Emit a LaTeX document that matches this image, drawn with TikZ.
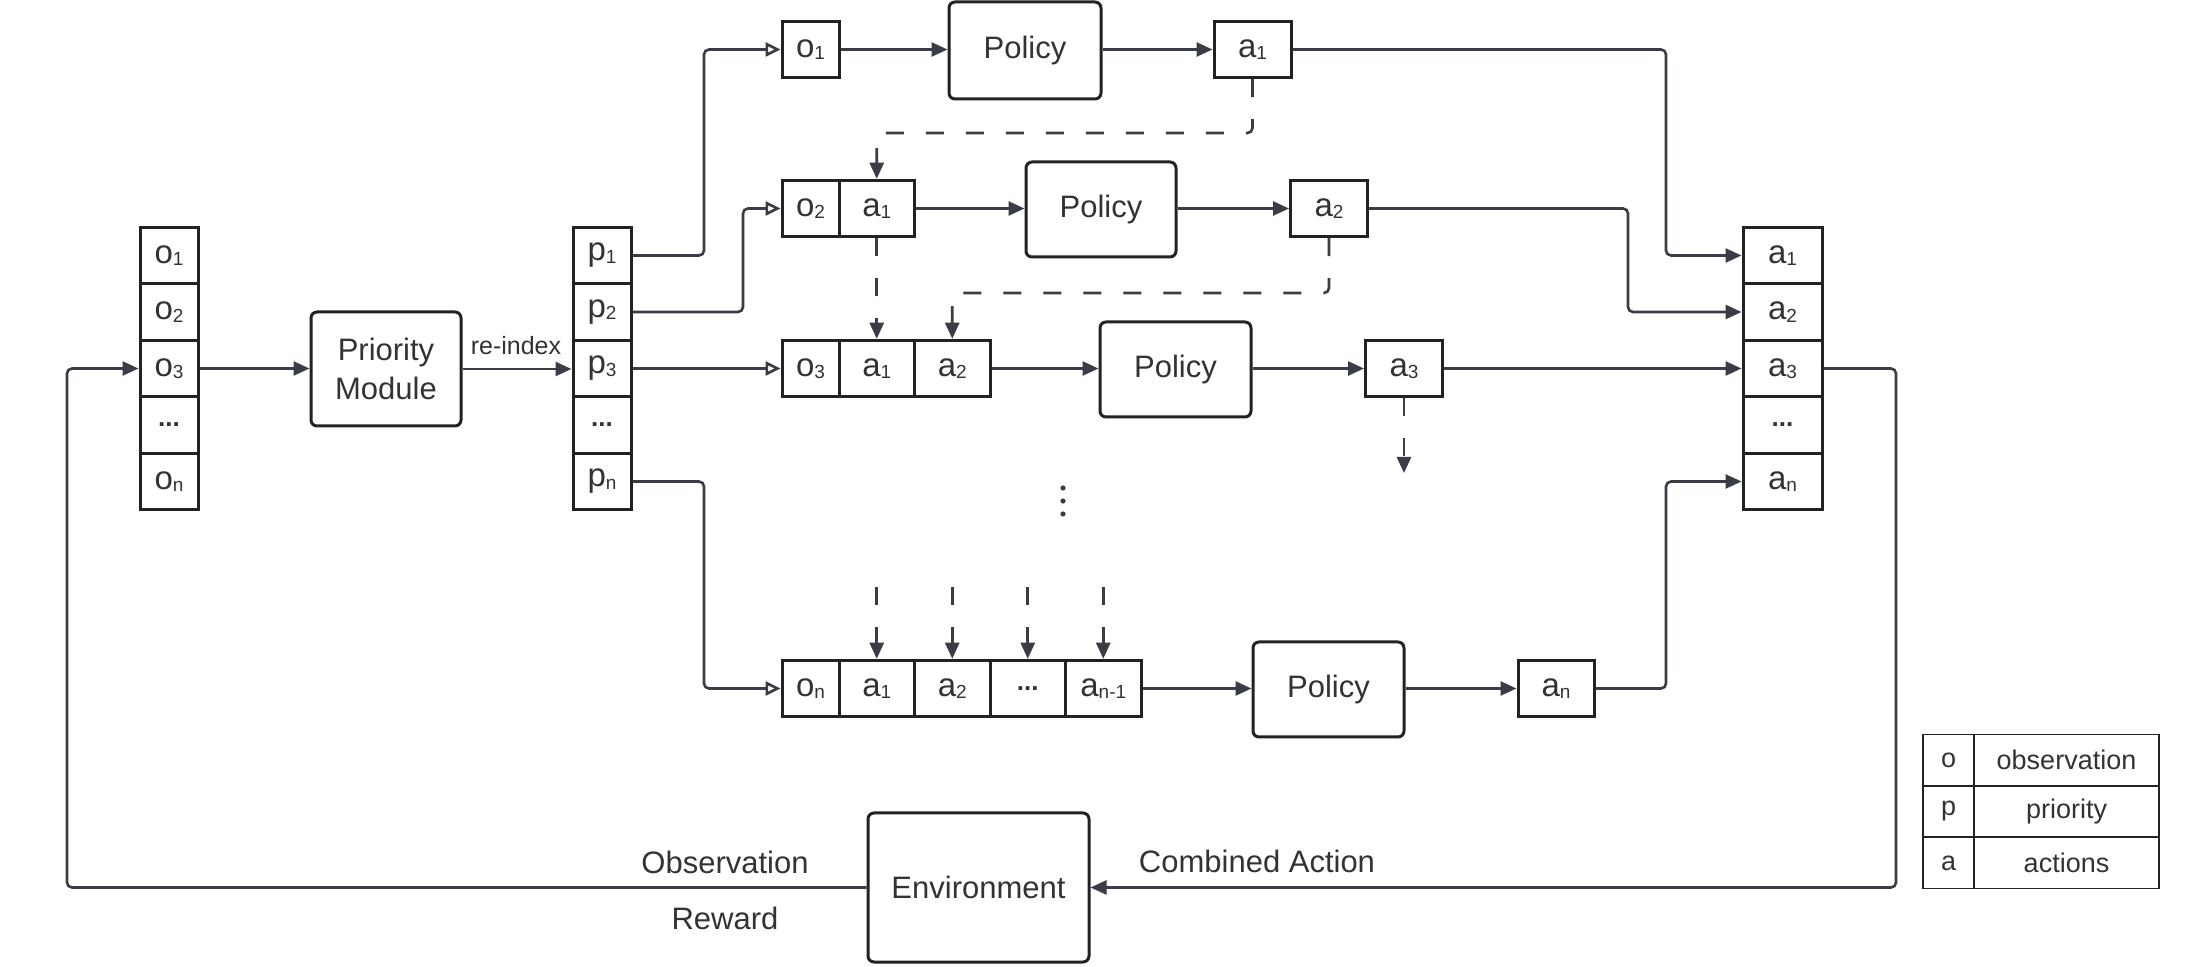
\documentclass[tikz,border=0pt]{standalone}
\usepackage{fontspec}
\setmainfont{Liberation Sans}
\usetikzlibrary{arrows.meta,calc}
\definecolor{boxc}{HTML}{222222}
\definecolor{linec}{HTML}{3A3D45}
\definecolor{txtc}{HTML}{333333}
\newcommand\subs[1]{\raisebox{-1.2pt}{\fontsize{9.5}{10}\selectfont #1}}
\newcommand\dotsc{{\bfseries\fontsize{13}{14}\selectfont ...}}
\begin{document}
\begin{tikzpicture}[x=0.5pt,y=-0.5pt,
  cell/.style={draw=boxc,line width=1.5pt,inner sep=0pt,text=txtc,
    font=\fontsize{16.5}{19}\selectfont,minimum height=28.25pt},
  ocell/.style={cell,minimum width=28.5pt},
  acell/.style={cell,minimum width=37.75pt},
  colcell/.style={cell,minimum width=29pt},
  rbox/.style={draw=boxc,line width=1.5pt,rounded corners=3pt,inner sep=0pt,
    text=txtc,font=\fontsize{15.5}{19.5}\selectfont,align=center},
  leg/.style={draw=boxc,line width=0.9pt,inner sep=0pt,text=txtc,
    font=\fontsize{13.5}{16}\selectfont,minimum height=25.5pt},
  lbl/.style={text=txtc,font=\fontsize{15.5}{19}\selectfont,inner sep=0pt},
  conn/.style={draw=linec,line width=1.3pt,rounded corners=2.5pt,
    -{Triangle[length=8pt,width=7pt]}},
  oconn/.style={draw=linec,line width=1.3pt,rounded corners=2.5pt,
    -{Triangle[open,length=7.5pt,width=7pt]}},
  dconn/.style={conn,dash pattern=on 9pt off 11pt}]
\useasboundingbox (0,0) rectangle (2192,967);
\fill[white] (0,0) rectangle (2192,967);

% left observation column
\node[colcell] (oL1) at (169,255.5) {o\subs{1}};
\node[colcell] (oL2) at (169,312) {o\subs{2}};
\node[colcell] (oL3) at (169,368.5) {o\subs{3}};
\node[colcell] (oL4) at (169,425) {\dotsc};
\node[colcell] (oL5) at (169,481.5) {o\subs{n}};

% priority module
\node[rbox,minimum width=75pt,minimum height=57pt] (PM) at (386,369) {Priority\\Module};

% priority column
\node[colcell] (pL1) at (602,255.5) {p\subs{1}};
\node[colcell] (pL2) at (602,312) {p\subs{2}};
\node[colcell] (pL3) at (602,368.5) {p\subs{3}};
\node[colcell] (pL4) at (602,425) {\dotsc};
\node[colcell] (pL5) at (602,481.5) {p\subs{n}};

% row 1
\node[ocell] (r1o) at (810.5,49.5) {o\subs{1}};
\node[rbox,minimum width=76pt,minimum height=48.5pt] (P1) at (1025,50.5) {Policy};
\node[cell,minimum width=38.5pt] (r1a) at (1252.5,49.5) {a\subs{1}};

% row 2
\node[ocell] (r2o) at (810.5,208.5) {o\subs{2}};
\node[acell] (r2a1) at (876.75,208.5) {a\subs{1}};
\node[rbox,minimum width=75pt,minimum height=47.5pt] (P2) at (1101,209.5) {Policy};
\node[cell,minimum width=38.5pt] (r2a) at (1329,208.5) {a\subs{2}};

% row 3
\node[ocell] (r3o) at (810.5,368.5) {o\subs{3}};
\node[acell] (r3a1) at (876.75,368.5) {a\subs{1}};
\node[acell] (r3a2) at (952.25,368.5) {a\subs{2}};
\node[rbox,minimum width=75.5pt,minimum height=47.5pt] (P3) at (1175.5,369.5) {Policy};
\node[cell,minimum width=38.5pt] (r3a) at (1404,368.5) {a\subs{3}};

% row n
\node[ocell] (rno) at (810.5,688.5) {o\subs{n}};
\node[acell] (rna1) at (876.75,688.5) {a\subs{1}};
\node[acell] (rna2) at (952.25,688.5) {a\subs{2}};
\node[acell] (rnd) at (1027.75,688.5) {\dotsc};
\node[acell] (rnan) at (1103.25,688.5) {a\subs{n-1}};
\node[rbox,minimum width=75.5pt,minimum height=47.5pt] (Pn) at (1328.5,689.5) {Policy};
\node[cell,minimum width=38pt] (rna) at (1556,688.5) {a\subs{n}};

% right action column
\node[cell,minimum width=39.5pt] (aR1) at (1782.5,255.5) {a\subs{1}};
\node[cell,minimum width=39.5pt] (aR2) at (1782.5,312) {a\subs{2}};
\node[cell,minimum width=39.5pt] (aR3) at (1782.5,368.5) {a\subs{3}};
\node[cell,minimum width=39.5pt] (aR4) at (1782.5,425) {\dotsc};
\node[cell,minimum width=39.5pt] (aR5) at (1782.5,481.5) {a\subs{n}};

% environment
\node[rbox,minimum width=110.5pt,minimum height=74.5pt] (Env) at (978.5,887.5) {Environment};

% labels
\node[lbl,font=\fontsize{12.5}{15}\selectfont] (ri) at (516,346) {re-index};
\node[lbl] (obs) at (725,862) {Observation};
\node[lbl] (rew) at (725,918) {Reward};
\node[lbl] (ca) at (1257,861) {Combined Action};

% vertical dots
\fill[linec] (1063,488) circle (2.6) (1063,501) circle (2.6) (1063,514) circle (2.6);

% legend
\node[leg,minimum width=25.5pt] (lo) at (1948.5,760) {o};
\node[leg,minimum width=92.5pt] (lob) at (2066.5,760) {observation};
\node[leg,minimum width=25.5pt] (lp) at (1948.5,811.5) {p};
\node[leg,minimum width=92.5pt] (lpr) at (2066.5,811.5) {priority};
\node[leg,minimum width=25.5pt] (la) at (1948.5,863) {a};
\node[leg,minimum width=92.5pt] (lac) at (2066.5,863) {actions};

% turning coordinates
\coordinate (tx1) at (704,0);
\coordinate (tx2) at (743,0);
\coordinate (tx3) at (1666,0);
\coordinate (tx4) at (1628,0);
\coordinate (tx5) at (1896,0);
\coordinate (tx6) at (67,0);
\coordinate (ty1) at (0,133);
\coordinate (ty2) at (0,293);
\coordinate (ty3) at (0,473);
\coordinate (ty4) at (0,587);

% main flow
\draw[conn] (oL3.east) -- (oL3.east -| PM.west);
\draw[conn] (PM.east) -- (PM.east -| pL3.west);
\draw[oconn] (pL1.east) -- (pL1.east -| tx1) -- (tx1 |- r1o.west) -- (r1o.west);
\draw[oconn] (pL2.east) -- (pL2.east -| tx2) -- (tx2 |- r2o.west) -- (r2o.west);
\draw[oconn] (pL3.east) -- (r3o.west);
\draw[oconn] (pL5.east) -- (pL5.east -| tx1) -- (tx1 |- rno.west) -- (rno.west);

\draw[conn] (r1o.east) -- (r1o.east -| P1.west);
\draw[conn] (r1o.east -| P1.east) -- (r1a.west);
\draw[conn] (r2a1.east) -- (r2a1.east -| P2.west);
\draw[conn] (r2a1.east -| P2.east) -- (r2a.west);
\draw[conn] (r3a2.east) -- (r3a2.east -| P3.west);
\draw[conn] (r3a2.east -| P3.east) -- (r3a.west);
\draw[conn] (rnan.east) -- (rnan.east -| Pn.west);
\draw[conn] (rnan.east -| Pn.east) -- (rna.west);

\draw[conn] (r1a.east) -- (r1a.east -| tx3) -- (tx3 |- aR1.west) -- (aR1.west);
\draw[conn] (r2a.east) -- (r2a.east -| tx4) -- (tx4 |- aR2.west) -- (aR2.west);
\draw[conn] (r3a.east) -- (aR3.west);
\draw[conn] (rna.east) -- (rna.east -| tx3) -- (tx3 |- aR5.west) -- (aR5.west);

% feedback loop
\draw[conn] (aR3.east) -- (aR3.east -| tx5) -- (tx5 |- Env.east) -- (Env.east);
\draw[conn] (Env.west) -- (Env.west -| tx6) -- (tx6 |- oL3.west) -- (oL3.west);

% dashed dependencies
\draw[dconn] (r1a.south) -- (r1a.south |- ty1) -- (ty1 -| r2a1.north) -- (r2a1.north);
\draw[dconn] (r2a1.south) -- (r3a1.north);
\draw[dconn] (r2a.south) -- (r2a.south |- ty2) -- (ty2 -| r3a2.north) -- (r3a2.north);
\coordinate (a3end) at (r3a.south |- ty3);
\draw[dconn] (r3a.south) -- (a3end);
\coordinate (d1) at (rna1.north |- ty4);
\coordinate (d2) at (rna2.north |- ty4);
\coordinate (d3) at (rnd.north |- ty4);
\coordinate (d4) at (rnan.north |- ty4);
\draw[dconn] (d1) -- (rna1.north);
\draw[dconn] (d2) -- (rna2.north);
\draw[dconn] (d3) -- (rnd.north);
\draw[dconn] (d4) -- (rnan.north);
\end{tikzpicture}
\end{document}
